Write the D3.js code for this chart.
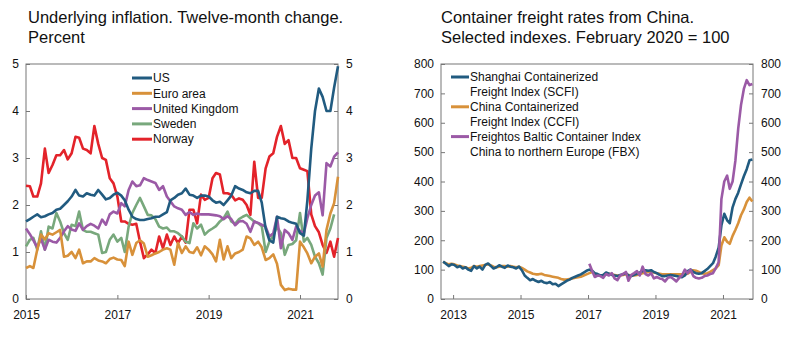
<!DOCTYPE html>
<html lang="en">
<head>
<meta charset="UTF-8" />
<script src="https://d3js.org/d3.v7.min.js"></script>
<title>Inflation and container freight rates</title>
<style>
  body { margin: 0; background: #fff; }
  svg { font-family: "Liberation Sans", Arial, sans-serif; }
</style>
</head>
<body>
<script>
// underlying inflation, monthly Jan 2015 - Nov 2021, percent
const inflMonths = d3.timeMonth.range(new Date(2015, 0, 1), new Date(2021, 11, 1));

const usInfl = [1.65, 1.70, 1.75, 1.80, 1.74, 1.76, 1.80, 1.83, 1.90, 1.92, 2.00, 2.08,
  2.18, 2.32, 2.20, 2.18, 2.25, 2.22, 2.20, 2.32, 2.22, 2.12, 2.15, 2.22,
  2.26, 2.20, 2.10, 1.90, 1.75, 1.70, 1.68, 1.68, 1.70, 1.72, 1.75, 1.75,
  1.80, 1.85, 2.10, 2.15, 2.22, 2.25, 2.35, 2.22, 2.20, 2.15, 2.20, 2.20,
  2.18, 2.10, 2.05, 2.07, 2.00, 2.10, 2.20, 2.40, 2.35, 2.32, 2.27, 2.25,
  2.30, 2.30, 2.05, 1.50, 1.25, 1.20, 1.75, 1.72, 1.70, 1.65, 1.62, 1.60,
  1.40, 1.35, 2.10, 3.20, 4.00, 4.48, 4.30, 4.00, 4.00, 4.50, 4.95];

const euroInfl = [0.66, 0.70, 0.66, 1.05, 1.37, 1.27, 1.40, 1.37, 1.42, 1.47, 0.90, 0.92,
  1.00, 0.87, 1.05, 0.76, 0.80, 0.80, 0.87, 0.82, 0.80, 0.76, 0.85, 0.88,
  0.84, 0.83, 0.70, 1.22, 0.94, 1.19, 1.25, 1.18, 0.90, 0.93, 0.97, 1.00,
  1.05, 1.08, 1.05, 0.73, 1.19, 0.98, 1.12, 1.00, 0.98, 1.10, 0.93, 1.12,
  1.05, 0.95, 0.80, 1.26, 0.84, 1.12, 0.87, 0.97, 1.00, 1.05, 1.33, 1.29,
  1.15, 1.22, 1.10, 0.83, 0.87, 0.95, 0.75, 0.30, 0.19, 0.22, 0.20, 0.20,
  1.22, 1.10, 0.97, 0.76, 0.90, 0.97, 0.69, 1.47, 1.82, 2.04, 2.60];

const ukInfl = [1.50, 1.38, 1.25, 1.10, 1.28, 1.05, 1.26, 1.22, 1.20, 1.30, 1.44, 1.55,
  1.48, 1.45, 1.61, 1.47, 1.55, 1.60, 1.56, 1.50, 1.69, 1.58, 1.80, 1.86,
  1.82, 2.04, 1.97, 2.32, 2.50, 2.40, 2.42, 2.57, 2.53, 2.50, 2.47, 2.32,
  2.40, 2.18, 2.08, 1.97, 1.93, 1.90, 1.79, 1.85, 1.79, 1.82, 1.80, 1.80,
  1.80, 1.79, 1.78, 1.76, 1.70, 1.76, 1.70, 1.57, 1.65, 1.66, 1.60, 1.43,
  1.65, 1.62, 1.58, 1.54, 1.33, 1.40, 1.75, 1.08, 1.47, 1.40, 1.26, 1.54,
  1.45, 1.40, 1.72, 2.00, 2.20, 2.27, 1.78, 2.89, 2.82, 3.03, 3.12];

const swedenInfl = [1.12, 1.26, 1.30, 1.05, 1.44, 1.05, 1.54, 1.50, 1.83, 1.65, 1.40, 1.26,
  1.58, 1.55, 1.86, 1.47, 1.43, 1.43, 1.40, 1.37, 0.98, 1.00, 1.26, 1.37,
  1.22, 1.30, 1.00, 1.54, 1.83, 2.00, 2.15, 1.97, 1.79, 1.78, 1.70, 1.54,
  1.50, 1.52, 1.44, 1.44, 1.40, 1.33, 1.22, 1.19, 1.61, 1.50, 1.58, 1.37,
  1.45, 1.50, 1.55, 1.65, 1.72, 1.86, 1.65, 1.60, 1.70, 1.75, 1.79, 1.72,
  1.65, 1.61, 1.55, 1.00, 1.22, 1.35, 1.54, 1.40, 0.94, 1.15, 1.17, 1.25,
  1.83, 1.22, 1.30, 1.15, 0.90, 0.76, 0.52, 1.30, 1.50, 1.80, null];

const norwayInfl = [2.41, 2.40, 2.18, 2.18, 2.46, 3.20, 2.68, 2.85, 3.06, 3.06, 3.17, 2.97,
  3.10, 3.45, 3.43, 3.20, 3.17, 3.10, 3.68, 3.30, 3.00, 2.96, 2.57, 2.46,
  2.18, 1.65, 1.65, 1.60, 1.58, 1.60, 1.22, 0.87, 0.95, 1.05, 0.98, 1.33,
  1.08, 1.37, 1.15, 1.33, 1.19, 1.33, 1.20, 1.90, 1.90, 1.61, 2.22, 2.11,
  2.15, 2.57, 2.68, 2.65, 2.25, 2.25, 2.22, 2.10, 2.14, 2.11, 2.00, 1.79,
  2.92, 2.15, 2.15, 2.78, 3.03, 3.10, 3.45, 3.68, 3.30, 3.38, 3.00, 3.00,
  2.78, 2.75, 2.72, 1.80, 1.55, 1.42, 1.15, 0.98, 1.22, 0.90, 1.30];

const inflSeries = [
  { name: "US", values: usInfl, color: "#215b80" },
  { name: "Euro area", values: euroInfl, color: "#d8913a" },
  { name: "United Kingdom", values: ukInfl, color: "#9b5aa6" },
  { name: "Sweden", values: swedenInfl, color: "#78a87c" },
  { name: "Norway", values: norwayInfl, color: "#e3232a" }
];
const inflTicks = [0, 1, 2, 3, 4, 5];
const inflYears = [2015, 2017, 2019, 2021];

// container freight indexes, monthly (mid-month), Feb 2020 = 100
const freightMonths = d3.timeMonth.range(new Date(2012, 8, 1), new Date(2021, 11, 1))
  .map(d => new Date(d.getFullYear(), d.getMonth(), 15));
const fbxMonths = d3.timeMonth.range(new Date(2017, 0, 1), new Date(2021, 11, 1))
  .map(d => new Date(d.getFullYear(), d.getMonth(), 15));

const scfi = [128, 120, 112, 118,
  116, 108, 112, 104, 108, 100, 96, 112, 104, 110, 100, 116,
  121, 112, 104, 108, 115, 110, 106, 114, 110, 108, 104, 110,
  98, 80, 72, 64, 68, 62, 58, 62, 56, 54, 58, 50,
  52, 44, 50, 56, 62, 66, 72, 76, 80, 84, 90, 96,
  100, 96, 88, 85, 80, 82, 90, 86, 82, 80, 78, 82,
  84, 88, 80, 78, 82, 86, 90, 95, 98, 96, 98, 92,
  88, 82, 78, 78, 80, 82, 80, 78, 76, 74, 80, 95,
  100, 92, 88, 86, 88, 95, 102, 112, 122, 145, 175, 250,
  290, 268, 258, 312, 340, 362, 390, 418, 442, 472, 475];

const ccfi = [126, 122, 118, 120,
  118, 114, 112, 110, 108, 104, 106, 112, 110, 112, 114, 116,
  118, 114, 110, 108, 110, 112, 112, 110, 112, 110, 108, 110,
  106, 100, 94, 90, 86, 84, 84, 86, 82, 80, 78, 76,
  74, 72, 68, 66, 66, 68, 70, 72, 74, 76, 80, 84,
  88, 92, 86, 82, 80, 82, 84, 86, 84, 82, 80, 80,
  82, 84, 82, 80, 80, 82, 84, 88, 90, 92, 92, 90,
  88, 86, 84, 84, 84, 84, 84, 84, 84, 84, 84, 86,
  92, 98, 96, 92, 88, 86, 88, 92, 98, 104, 115, 182,
  210, 195, 188, 215, 235, 258, 285, 305, 330, 345, 332];

const fbx = [120, 95, 75, 80, 78, 72, 85, 80, 88, 70, 64, 80,
  85, 92, 62, 82, 88, 95, 80, 110, 85, 80, 88, 70,
  75, 70, 68, 60, 72, 75, 68, 60, 72, 80, 100, 88,
  100, 78, 72, 70, 72, 78, 80, 85, 88, 105, 125, 340,
  400, 420, 375, 400, 470, 580, 660, 715, 745, 728, 732];

const freightSeries = [
  { name: ["Shanghai Containerized", "Freight Index (SCFI)"], dates: freightMonths, values: scfi, color: "#215b80" },
  { name: ["China Containerized", "Freight Index (CCFI)"], dates: freightMonths, values: ccfi, color: "#d8913a" },
  { name: ["Freightos Baltic Container Index", "China to northern Europe (FBX)"], dates: fbxMonths, values: fbx, color: "#9b5aa6" }
];
const freightTicks = [0, 100, 200, 300, 400, 500, 600, 700, 800];
const freightYears = [2013, 2015, 2017, 2019, 2021];

let svg = d3.select("body").append("svg")
  .attr("width", 797)
  .attr("height", 337);

// frame, inside ticks on both sides, year labels below
function drawFrame(x, y, yTicks, years) {
  let [x0, x1] = x.range();
  let [y0, y1] = y.range();
  let fmt = d3.format("d");

  svg.append("g")
    .attr("transform", `translate(${x0},0)`)
    .call(d3.axisLeft(y).tickValues(yTicks).tickFormat(fmt).tickSize(-4).tickPadding(7))
    .call(g => g.select(".domain").remove());
  svg.append("g")
    .attr("transform", `translate(${x1},0)`)
    .call(d3.axisRight(y).tickValues(yTicks).tickFormat(fmt).tickSize(-4).tickPadding(8))
    .call(g => g.select(".domain").remove());
  svg.append("g")
    .attr("transform", `translate(0,${y0})`)
    .call(d3.axisBottom(x)
      .tickValues(years.map(yr => new Date(yr, 0, 1)))
      .tickFormat(d3.timeFormat("%Y"))
      .tickSize(-4).tickPadding(11))
    .call(g => g.select(".domain").remove());

  svg.selectAll(".tick text").attr("font-size", 12).attr("fill", "#111")
    .attr("font-family", "Liberation Sans, Arial, sans-serif");
  svg.selectAll(".tick line").attr("stroke", "#777");

  svg.append("rect")
    .attr("x", x0).attr("y", y1)
    .attr("width", x1 - x0).attr("height", y0 - y1)
    .attr("fill", "none")
    .attr("stroke", "#777")
    .attr("stroke-width", 1);
}

function drawTitle(x, lines) {
  svg.append("text")
    .attr("x", x).attr("y", 23)
    .attr("font-size", 16.5)
    .attr("fill", "#111")
    .selectAll("tspan")
    .data(lines)
    .join("tspan")
    .attr("x", x)
    .attr("dy", (d, i) => i ? 20 : 0)
    .text(d => d);
}

// left panel: underlying inflation
let xInfl = d3.scaleTime()
  .domain([new Date(2015, 0, 1), new Date(2021, 10, 1)])
  .range([26, 338]);
let yInfl = d3.scaleLinear().domain([0, 5]).range([299, 64]);

drawTitle(28, ["Underlying inflation. Twelve-month change.", "Percent"]);
drawFrame(xInfl, yInfl, inflTicks, inflYears);

let inflLine = d3.line()
  .defined(d => d[1] != null)
  .x(d => xInfl(d[0]))
  .y(d => yInfl(d[1]));

// Norway first so the US line stays on top
inflSeries.slice().reverse().forEach(s => {
  svg.append("path")
    .attr("d", inflLine(inflMonths.map((m, i) => [m, s.values[i]])))
    .attr("fill", "none")
    .attr("stroke", s.color)
    .attr("stroke-width", 2.6)
    .attr("stroke-linejoin", "round");
});

let inflLegend = svg.append("g").attr("transform", "translate(132,78)");
inflSeries.forEach((s, i) => {
  let row = inflLegend.append("g").attr("transform", `translate(0,${i * 15.3})`);
  row.append("line")
    .attr("x1", 0).attr("x2", 20)
    .attr("stroke", s.color).attr("stroke-width", 3);
  row.append("text")
    .attr("x", 21).attr("dy", "0.35em")
    .attr("font-size", 12).attr("fill", "#111")
    .text(s.name);
});

// right panel: container freight rates
let xFreight = d3.scaleTime()
  .domain([new Date(2012, 7, 23), new Date(2021, 10, 22)])
  .range([441, 753]);
let yFreight = d3.scaleLinear().domain([0, 800]).range([299, 64]);

drawTitle(441, ["Container freight rates from China.", "Selected indexes. February 2020 = 100"]);
drawFrame(xFreight, yFreight, freightTicks, freightYears);

let freightLine = d3.line()
  .x(d => xFreight(d[0]))
  .y(d => yFreight(d[1]));

[freightSeries[1], freightSeries[0], freightSeries[2]].forEach(s => {
  svg.append("path")
    .attr("d", freightLine(s.dates.map((m, i) => [m, s.values[i]])))
    .attr("fill", "none")
    .attr("stroke", s.color)
    .attr("stroke-width", 2.6)
    .attr("stroke-linejoin", "round");
});

let freightLegend = svg.append("g").attr("transform", "translate(451,77)");
freightSeries.forEach((s, i) => {
  let row = freightLegend.append("g").attr("transform", `translate(0,${i * 29.8})`);
  row.append("line")
    .attr("x1", 0).attr("x2", 18)
    .attr("stroke", s.color).attr("stroke-width", 3);
  row.append("text")
    .attr("x", 19).attr("font-size", 12).attr("fill", "#111")
    .selectAll("tspan")
    .data(s.name)
    .join("tspan")
    .attr("x", 19)
    .attr("y", (d, j) => j * 14.8)
    .attr("dy", "0.35em")
    .text(d => d);
});
</script>
</body>
</html>
